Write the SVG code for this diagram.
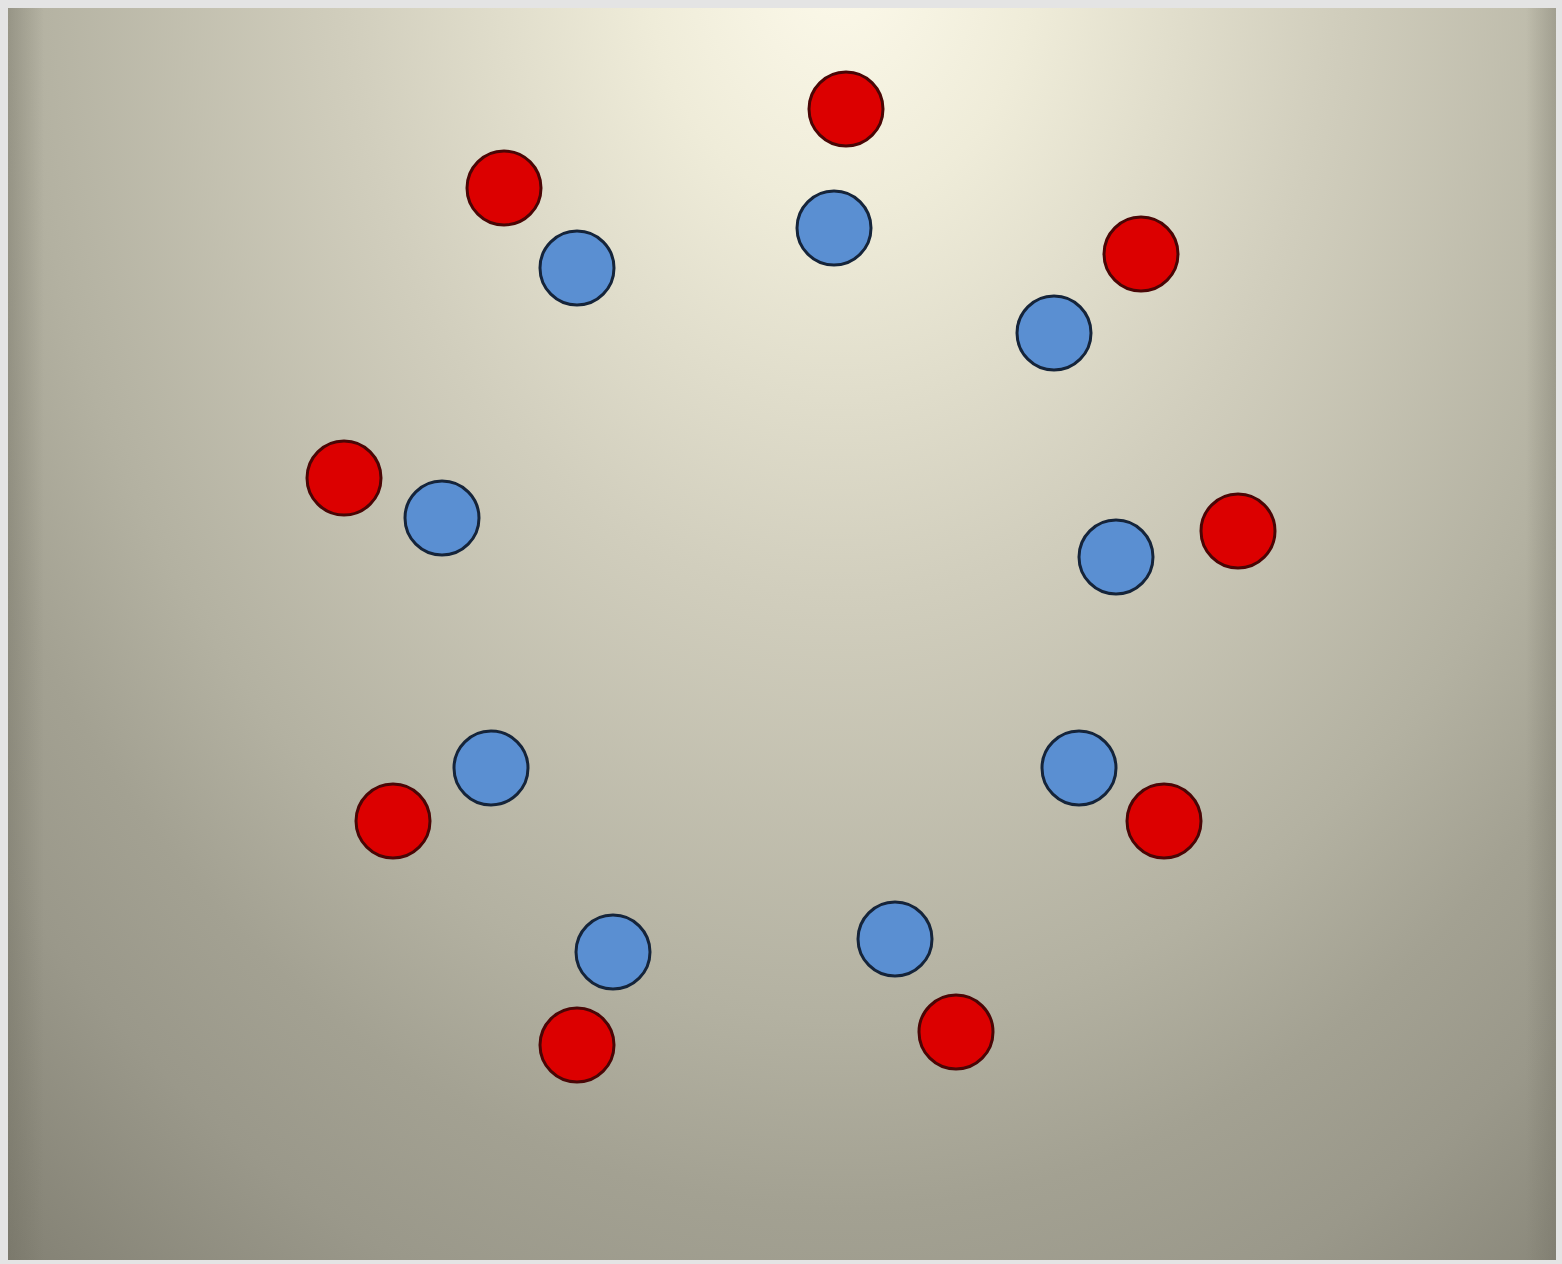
<svg xmlns="http://www.w3.org/2000/svg" width="1562" height="1264" viewBox="0 0 1562 1264">
<defs>
<radialGradient id="bg" gradientUnits="userSpaceOnUse" cx="840" cy="-50" r="1700" gradientTransform="translate(840 -50) scale(0.765 1) translate(-840 50)">
<stop offset="0" stop-color="#fdfaeb"/>
<stop offset="0.15" stop-color="#efecd9"/>
<stop offset="0.38" stop-color="#d1cebd"/>
<stop offset="0.63" stop-color="#b3b1a1"/>
<stop offset="0.74" stop-color="#a3a192"/>
<stop offset="0.84" stop-color="#9a988a"/>
<stop offset="1" stop-color="#838174"/>
</radialGradient>
<linearGradient id="edgeL" x1="0" y1="0" x2="1" y2="0">
<stop offset="0" stop-color="#6f6d60" stop-opacity="0.4"/>
<stop offset="1" stop-color="#6f6d60" stop-opacity="0"/>
</linearGradient>
<linearGradient id="edgeR" x1="1" y1="0" x2="0" y2="0">
<stop offset="0" stop-color="#6f6d60" stop-opacity="0.35"/>
<stop offset="1" stop-color="#6f6d60" stop-opacity="0"/>
</linearGradient>
<style>
.red{fill:#dc0000;stroke:#4a0505;stroke-width:3}
.blue{fill:#5a8fd2;stroke:#15243a;stroke-width:3}
</style>
</defs>
<rect x="0" y="0" width="1562" height="1264" fill="#e4e4e4"/>
<rect x="8" y="8" width="1548" height="1252" fill="url(#bg)"/>
<rect x="8" y="8" width="36" height="1252" fill="url(#edgeL)"/>
<rect x="1526" y="8" width="30" height="1252" fill="url(#edgeR)"/>
<g id="pair-top">
<circle class="red" cx="846" cy="109" r="37"/>
<circle class="blue" cx="834" cy="228" r="37"/>
</g>
<g id="pair-top-left">
<circle class="red" cx="504" cy="188" r="37"/>
<circle class="blue" cx="577" cy="268" r="37"/>
</g>
<g id="pair-top-right">
<circle class="red" cx="1141" cy="254" r="37"/>
<circle class="blue" cx="1054" cy="333" r="37"/>
</g>
<g id="pair-left">
<circle class="red" cx="344" cy="478" r="37"/>
<circle class="blue" cx="442" cy="518" r="37"/>
</g>
<g id="pair-right">
<circle class="red" cx="1238" cy="531" r="37"/>
<circle class="blue" cx="1116" cy="557" r="37"/>
</g>
<g id="pair-lower-left">
<circle class="blue" cx="491" cy="768" r="37"/>
<circle class="red" cx="393" cy="821" r="37"/>
</g>
<g id="pair-lower-right">
<circle class="blue" cx="1079" cy="768" r="37"/>
<circle class="red" cx="1164" cy="821" r="37"/>
</g>
<g id="pair-bottom-left">
<circle class="blue" cx="613" cy="952" r="37"/>
<circle class="red" cx="577" cy="1045" r="37"/>
</g>
<g id="pair-bottom-right">
<circle class="blue" cx="895" cy="939" r="37"/>
<circle class="red" cx="956" cy="1032" r="37"/>
</g>
</svg>
